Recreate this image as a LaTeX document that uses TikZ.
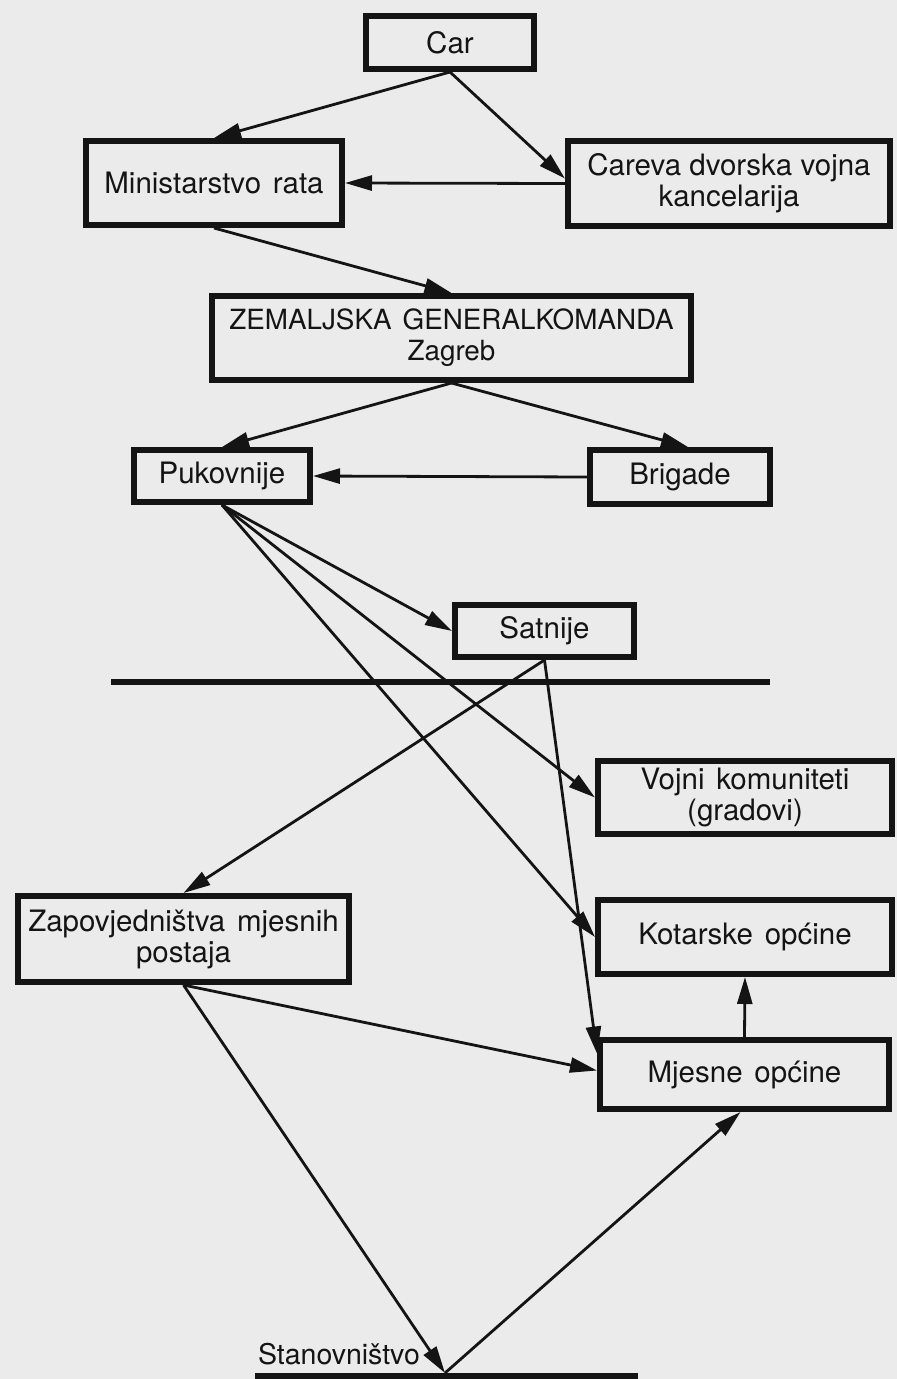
\documentclass[tikz,border=0pt]{standalone}
\usepackage{fontspec}
\setmainfont{TeX Gyre Heros}
\usetikzlibrary{arrows.meta, calc}

\definecolor{paper}{gray}{0.92}
\definecolor{ink}{gray}{0.08}

\begin{document}
\begin{tikzpicture}[x=1pt, y=-1pt,
  blok/.style={draw=ink, line width=6pt, align=center, inner sep=0pt,
    text=ink, font=\fontsize{29.5}{31}\selectfont},
  veza/.style={draw=ink, line width=2.8pt, -{Triangle[length=27pt,width=15pt]}},
  crta/.style={draw=ink, line width=6pt}]

\useasboundingbox[fill=paper] (0,0) rectangle (897,1379);

% vrh
\node[blok, minimum width=168pt, minimum height=53pt] (car) at (450,42.5) {Car};
\node[blok, minimum width=256pt, minimum height=84pt] (mins) at (214,183) {Ministarstvo\hspace{0.4em}rata};
\node[blok, minimum width=322pt, minimum height=85pt] (careva) at (729,183.5) {Careva dvorska vojna\\kancelarija};
\node[blok, minimum width=479pt, minimum height=84pt, font=\fontsize{27.8}{31}\selectfont] (zem) at (451.5,338) {ZEMALJSKA\hspace{0.4em}GENERALKOMANDA\\Zagreb};

% srednja razina
\node[blok, minimum width=176pt, minimum height=52pt] (puk) at (222,476) {Pukovnije};
\node[blok, minimum width=180pt, minimum height=54pt] (brig) at (680,477) {Brigade};
\node[blok, minimum width=179pt, minimum height=52pt] (sat) at (544.5,631) {Satnije};

\draw[crta] (111,682) -- (770,682);

% donja razina
\node[blok, minimum width=294pt, minimum height=73pt] (vojni) at (745,797.5) {Vojni\hspace{0.4em}komuniteti\\(gradovi)};
\node[blok, minimum width=294pt, minimum height=74pt] (kot) at (745,937) {Kotarske\hspace{0.4em}općine};
\node[blok, minimum width=289pt, minimum height=69pt] (mjes) at (744.5,1074.5) {Mjesne\hspace{0.4em}općine};
\node[blok, minimum width=331pt, minimum height=86pt] (zap) at (183.5,939) {Zapovjedništva\hspace{0.4em}mjesnih\\postaja};

\node[blok, draw=none, anchor=west, font=\fontsize{28.5}{31}\selectfont] (stan) at (255,1354) {Stanovništvo};
\draw[crta] (255,1376) -- (638,1376);
\coordinate (meet) at (445,1373);

% veze
\draw[veza] (car.south) -- (mins.north);
\draw[veza] (car.south) -- ($(careva.west)+(0,-5)$);
\draw[veza] (careva.west) -- (mins.east);
\draw[veza] (mins.south) -- (zem.north);
\draw[veza] (zem.south) -- (puk.north);
\draw[veza] (zem.south) -- ($(brig.north)+(8,0)$);
\draw[veza] (brig.west) -- (puk.east);

\draw[veza] (puk.south) -- (sat.west);
\draw[veza] (puk.south) -- (vojni.west);
\draw[veza] (puk.south) -- (kot.west);
\draw[veza] (sat.south) -- (zap.north);
\draw[veza] (sat.south) -- ($(mjes.west)+(0,-21)$);
\draw[veza] (zap.south) -- ($(mjes.west)+(0,-4)$);
\draw[veza] (zap.south) -- (meet);
\draw[veza] (meet) -- ($(mjes.south)+(-4,0)$);
\draw[veza] (mjes.north) -- (kot.south);

\end{tikzpicture}
\end{document}
